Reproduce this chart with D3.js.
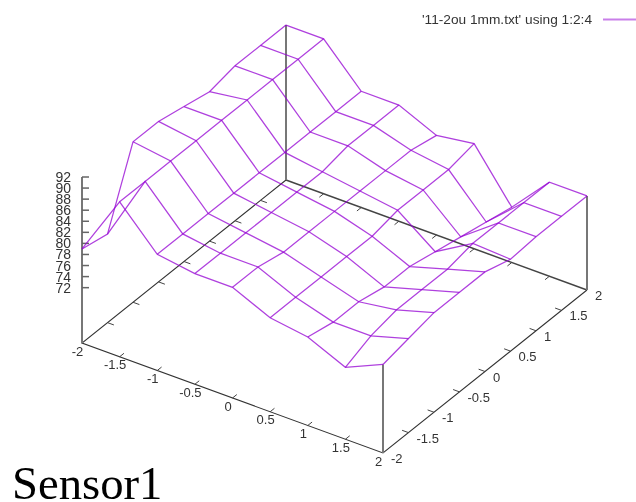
<!DOCTYPE html>
<html>
<head>
    <meta charset="UTF-8">
    <script src="https://cdn.jsdelivr.net/npm/d3@7/dist/d3.min.js"></script>
    <style>
        html, body { margin: 0; padding: 0; background: #fff; overflow: hidden; }
        svg { display: block; filter: blur(0.3px); }
    </style>
</head>
<body>
<script>

// grid of the surface
const x_values = [-2, -1.5, -1, -0.5, 0, 0.5, 1, 1.5, 2];
const y_values = [-2, -1.5, -1, -0.5, 0, 0.5, 1, 1.5, 2];

// sensor values, one row per x (column = y)
const z_rows = [
    [79, 78, 91, 91, 90, 89, 90, 90, 90],
    [90, 90, 90, 90, 90, 90, 90, 90, 90],
    [83, 83, 83, 83, 83, 83, 83, 83, 83],
    [82, 82, 82, 82, 82, 82, 83, 83, 83],
    [82, 82, 81, 81, 81, 81, 81, 81, 80],
    [79, 79, 79, 79, 79, 80, 80, 80, 81],
    [78, 77, 77, 76, 76, 75, 74, 73, 72],
    [75, 77, 78, 78, 78, 79, 79, 79, 79],
    [78, 79, 80, 80, 80, 78.6, 79, 79, 79]
];

// tick labels
const x_ticks = [-2, -1.5, -1, -0.5, 0, 0.5, 1, 1.5, 2];
const y_ticks = [-2, -1.5, -1, -0.5, 0, 0.5, 1, 1.5, 2];
const z_ticks = [72, 74, 76, 78, 80, 82, 84, 86, 88, 90, 92];

const plot_title = "Sensor1";
const legend_label = "'11-2ou 1mm.txt' using 1:2:4";

const width = 636;
const height = 502;
const surface_color = "#9400d3";

// view: each data axis moves the point along its own screen direction
const x_to_px = d3.scaleLinear([-2, 2], [0, 301]);
const x_to_py = d3.scaleLinear([-2, 2], [0, 110]);
const y_to_px = d3.scaleLinear([-2, 2], [0, 204]);
const y_to_py = d3.scaleLinear([-2, 2], [0, -163]);
const z_to_py = d3.scaleLinear([62, 92], [0, -166]);

const origin_x = 82;
const origin_y = 343;
const z_base = 62;

function project(x, y, z) {
    return [
        origin_x + x_to_px(x) + y_to_px(y),
        origin_y + x_to_py(x) + y_to_py(y) + z_to_py(z)
    ];
}

const line = d3.line();

const svg = d3.select("body").append("svg")
    .attr("width", width)
    .attr("height", height);

const axes = svg.append("g").attr("fill", "none");

// base frame, the back x edge is greyer and wider
const front_edges = [[2, 2], [2, -2], [-2, -2], [-2, 2]];
axes.append("path")
    .attr("d", line(front_edges.map(c => project(c[0], c[1], z_base))))
    .attr("stroke", "#333")
    .attr("stroke-width", 1.1);
axes.append("path")
    .attr("d", line([project(-2, 2, z_base), project(2, 2, z_base)]))
    .attr("stroke", "#444")
    .attr("stroke-width", 1.5);

// corner posts, up to the surface (z axis on the left goes to the top)
const x_last = x_values.length - 1;
const y_last = y_values.length - 1;
const posts = [
    [-2, -2, d3.max(z_ticks)],
    [2, -2, z_rows[x_last][0]],
    [2, 2, z_rows[x_last][y_last]],
    [-2, 2, z_rows[0][y_last]]
];
posts.forEach(p => {
    axes.append("path")
        .attr("d", line([project(p[0], p[1], z_base), project(p[0], p[1], p[2])]))
        .attr("stroke", "#777")
        .attr("stroke-width", 2);
});

// ticks on the base frame
const tick_len = 0.085;
function tick(p0, p1) {
    axes.append("path")
        .attr("d", line([p0, p1]))
        .attr("stroke", "#444")
        .attr("stroke-width", 1);
}
x_ticks.slice(1, -1).forEach(v => {
    tick(project(v, -2, z_base), project(v, -2 + tick_len, z_base));
    tick(project(v, 2, z_base), project(v, 2 - tick_len, z_base));
});
y_ticks.slice(1, -1).forEach(v => {
    tick(project(-2, v, z_base), project(-2 + tick_len, v, z_base));
    tick(project(2, v, z_base), project(2 - tick_len, v, z_base));
});
z_ticks.forEach(v => {
    const p = project(-2, -2, v);
    axes.append("path")
        .attr("d", line([p, [p[0] + 7, p[1]]]))
        .attr("stroke", "#666")
        .attr("stroke-width", 1.5);
});

// wire mesh, both directions
const mesh = svg.append("g")
    .attr("fill", "none")
    .attr("stroke", surface_color)
    .attr("stroke-width", 1.25)
    .attr("stroke-opacity", 0.75)
    .attr("stroke-linejoin", "miter");

z_rows.forEach((row, i) => {
    mesh.append("path")
        .attr("d", line(row.map((z, j) => project(x_values[i], y_values[j], z))));
});
y_values.forEach((y, j) => {
    mesh.append("path")
        .attr("d", line(z_rows.map((row, i) => project(x_values[i], y, row[j]))));
});

// tick labels
const labels = svg.append("g")
    .attr("font-family", "'Liberation Sans', sans-serif")
    .attr("fill", "#333");

x_ticks.forEach(v => {
    const p = project(v, -2, z_base);
    labels.append("text")
        .attr("x", p[0] - 4.5)
        .attr("y", p[1] + 12.5)
        .attr("text-anchor", "middle")
        .attr("font-size", 13)
        .text(v);
});
y_ticks.forEach(v => {
    const p = project(2, v, z_base);
    labels.append("text")
        .attr("x", p[0] + 8)
        .attr("y", p[1] + 10)
        .attr("font-size", 13)
        .text(v);
});
z_ticks.forEach(v => {
    const p = project(-2, -2, v);
    labels.append("text")
        .attr("x", p[0] - 11)
        .attr("y", p[1] + 5)
        .attr("text-anchor", "end")
        .attr("font-size", 14)
        .text(v);
});

// legend
labels.append("text")
    .attr("x", 592)
    .attr("y", 24)
    .attr("text-anchor", "end")
    .attr("font-size", 13.7)
    .text(legend_label);
svg.append("path")
    .attr("d", line([[603, 19.5], [636, 19.5]]))
    .attr("stroke", surface_color)
    .attr("stroke-opacity", 0.5)
    .attr("stroke-width", 2);

// title under the plot
svg.append("text")
    .attr("x", 12)
    .attr("y", 499)
    .attr("font-family", "'Liberation Serif', serif")
    .attr("font-size", 46.7)
    .attr("fill", "#000")
    .text(plot_title);

</script>
</body>
</html>
